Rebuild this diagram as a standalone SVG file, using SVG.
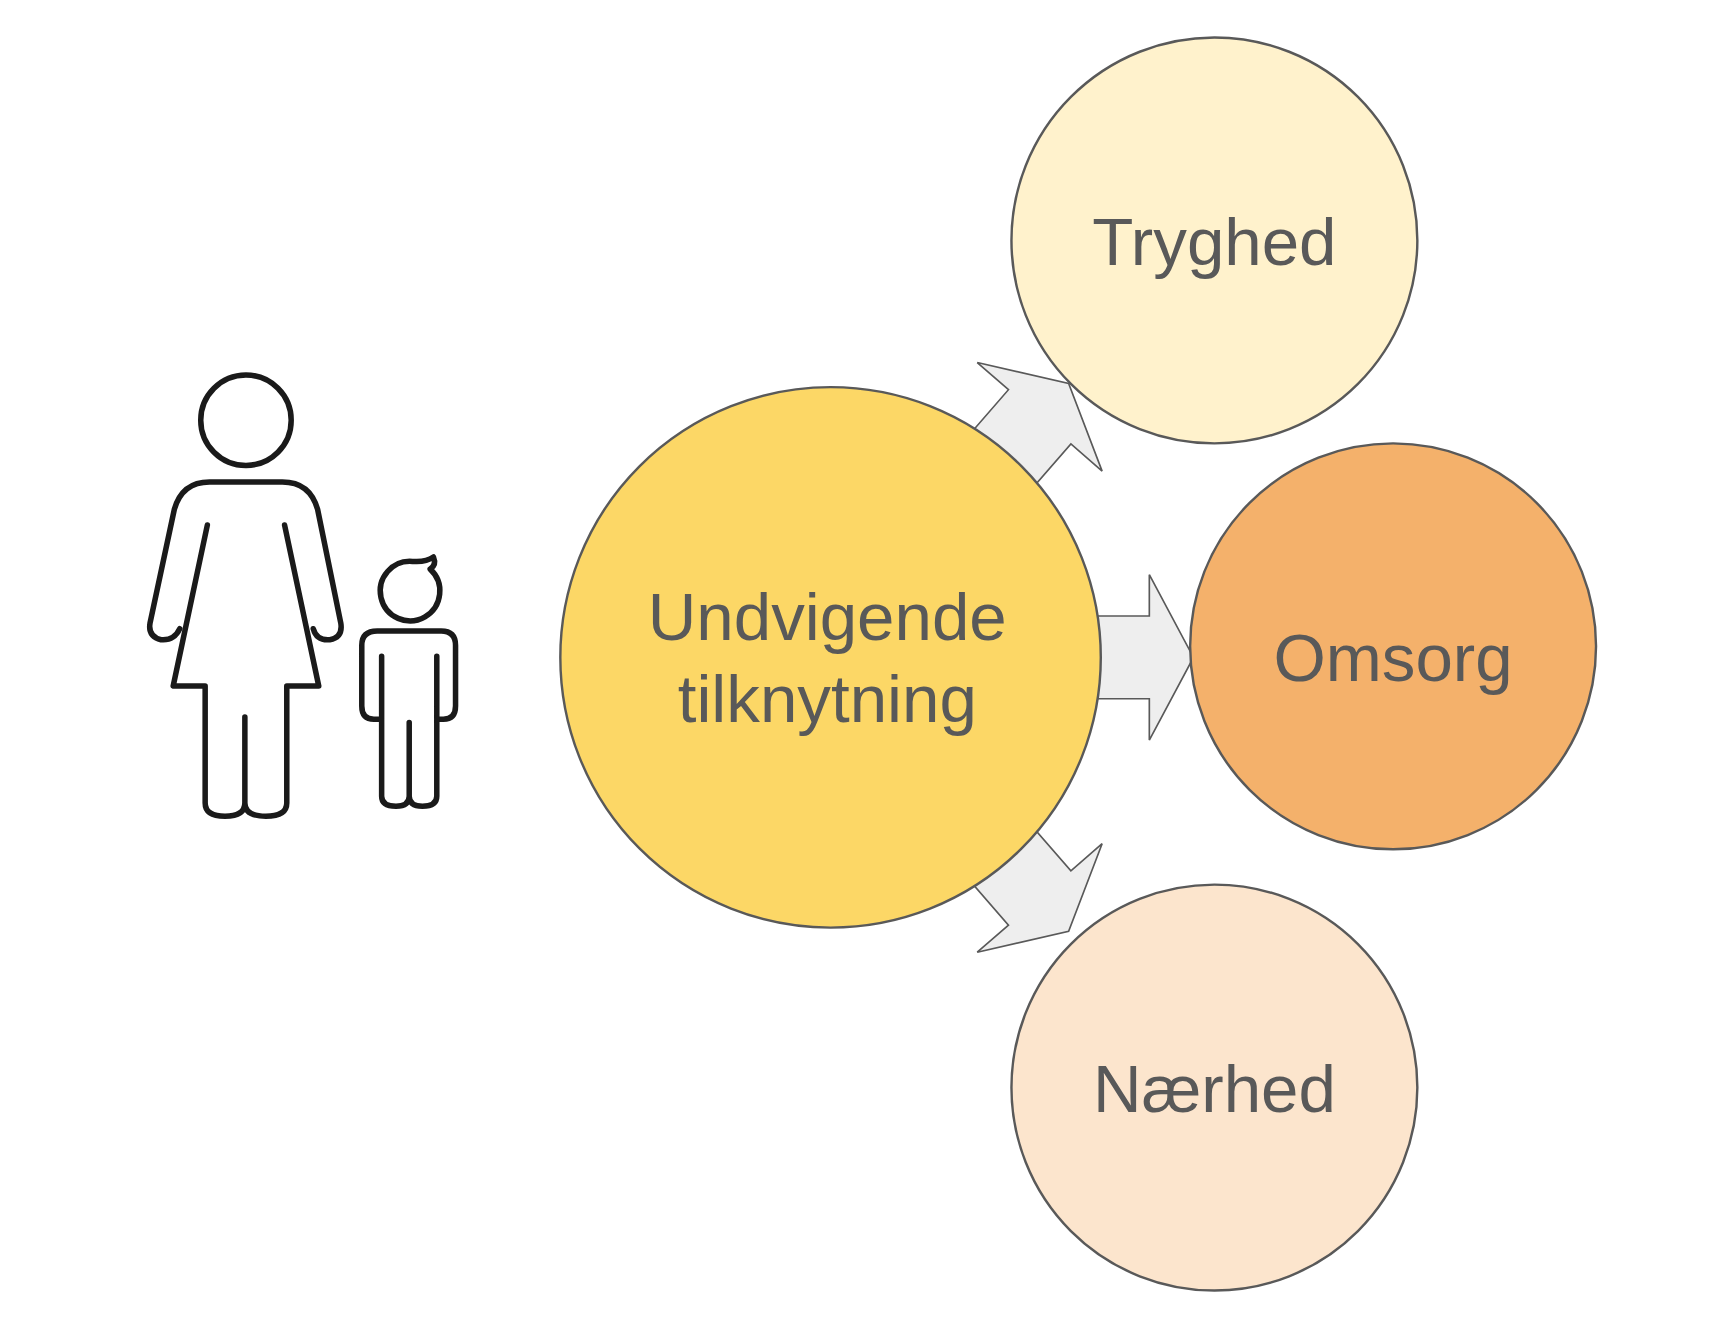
<svg xmlns="http://www.w3.org/2000/svg" width="1728" height="1330" viewBox="0 0 1728 1330">
<style>
.c{stroke:#595959;stroke-width:2.2}
.a{fill:#eeeeee;stroke:#595959;stroke-width:1.5}
.t{font-family:"Liberation Sans",Arial,sans-serif;font-size:61px;fill:#595959;text-anchor:middle}
.f{fill:#fff;stroke:#1a1a1a;stroke-width:5;stroke-linejoin:round;stroke-linecap:round}
.n{fill:none;stroke:#1a1a1a;stroke-width:5;stroke-linejoin:round;stroke-linecap:round}
</style>
<defs><polygon id="arr" points="210,-37.5 289,-37.5 289,-75 329,0 289,75 289,37.5 210,37.5"/></defs>
<rect width="1728" height="1330" fill="#fff"/>
<g transform="scale(1.103)">
<g id="connectors">
<use href="#arr" class="a" transform="translate(753,596) rotate(-49)"/>
<use href="#arr" class="a" transform="translate(753,596)"/>
<use href="#arr" class="a" transform="translate(753,596) rotate(49)"/>
</g>
<g id="center"><circle class="c" cx="753" cy="596" r="245" fill="#fcd766"/>
<text class="t" x="750" y="580">Undvigende</text><text class="t" x="750" y="655">tilknytning</text></g>
<g id="tryghed"><circle class="c" cx="1101" cy="218" r="184" fill="#fff2cc"/><text class="t" x="1101" y="240">Tryghed</text></g>
<g id="omsorg"><circle class="c" cx="1263" cy="586" r="184" fill="#f4b16b"/><text class="t" x="1263" y="617">Omsorg</text></g>
<g id="naerhed"><circle class="c" cx="1101" cy="986" r="184" fill="#fce5cd"/><text class="t" x="1101" y="1008">Nærhed</text></g>
<g id="woman">
<circle class="f" cx="223" cy="381" r="41"/>
<path class="f" d="M188,476 L157,622 H186 V728 Q186,740 204,740 Q222,740 222,728 V650 V728 Q222,740 241,740 Q260,740 260,728 V622 H289 L258,476"/>
<path class="n" d="M163,570 Q158,581 146,580 Q134,577 136,565 L158,462 Q165,437 190,437 H256 Q281,437 288,462 L309,565 Q311,578 299,580 Q287,581 284,570"/>
</g>
<g id="child">
<path class="f" d="M393,505 Q396,512 390,516 A27,27 0 1 1 374,509 Q386,510 393,505 Z"/>
<path class="f" d="M346,652 H339 Q328,652 328,640 V585 Q328,572 342,572 H400 Q413,572 413,585 V640 Q413,652 402,652 H396 V595 V722 Q396,731 383,731 Q371,731 371,722 V655 V722 Q371,731 359,731 Q346,731 346,722 V595"/>
</g>
</g>
</svg>
